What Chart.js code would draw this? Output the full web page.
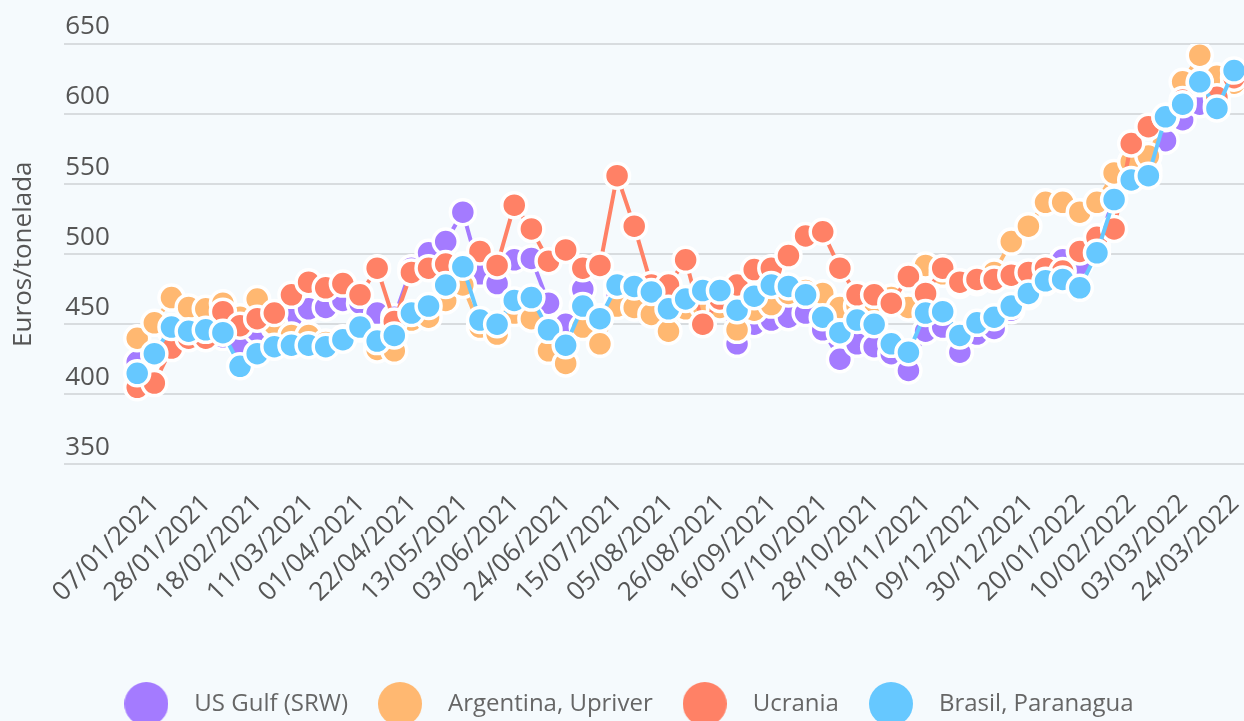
<!DOCTYPE html>
<html lang="es">
<head>
<meta charset="utf-8">
<title>Precios del trigo</title>
<script src="https://cdn.jsdelivr.net/npm/chart.js@4.4.1/dist/chart.umd.min.js"></script>
<style>
  html, body { margin: 0; padding: 0; background: #f5fafd; overflow: hidden; }
  #contenedor { width: 1244px; height: 726px; position: relative; }
</style>
</head>
<body>
<div id="contenedor"><canvas id="preciosChart"></canvas></div>
<script>
// Fechas semanales (jueves) de enero 2021 a marzo 2022
const fechas = [
  '07/01/2021', '14/01/2021', '21/01/2021', '28/01/2021', '04/02/2021', '11/02/2021', '18/02/2021',
  '25/02/2021', '04/03/2021', '11/03/2021', '18/03/2021', '25/03/2021', '01/04/2021', '08/04/2021',
  '15/04/2021', '22/04/2021', '29/04/2021', '06/05/2021', '13/05/2021', '20/05/2021', '27/05/2021',
  '03/06/2021', '10/06/2021', '17/06/2021', '24/06/2021', '01/07/2021', '08/07/2021', '15/07/2021',
  '22/07/2021', '29/07/2021', '05/08/2021', '12/08/2021', '19/08/2021', '26/08/2021', '02/09/2021',
  '09/09/2021', '16/09/2021', '23/09/2021', '30/09/2021', '07/10/2021', '14/10/2021', '21/10/2021',
  '28/10/2021', '04/11/2021', '11/11/2021', '18/11/2021', '25/11/2021', '02/12/2021', '09/12/2021',
  '16/12/2021', '23/12/2021', '30/12/2021', '06/01/2022', '13/01/2022', '20/01/2022', '27/01/2022',
  '03/02/2022', '10/02/2022', '17/02/2022', '24/02/2022', '03/03/2022', '10/03/2022', '17/03/2022',
  '24/03/2022', '31/03/2022'
];

// Precios en euros/tonelada
const usGulf = [
  423, 428, 444, 443, 445, 441, 436, 445, 448, 455, 461, 462, 467, 465, 458, 455,
  490, 501, 509, 530, 486, 479, 496, 497, 465, 450, 475, 455, 472, 472, 468, 462,
  465, 468, 468, 436, 450, 453, 455, 458, 446, 425, 436, 434, 429, 417, 445, 448,
  430, 443, 447, 460, 470, 480, 496, 493, 505, 540, 555, 560, 581, 596, 607, 606, 626
];
const argentina = [
  440, 451, 469, 462, 461, 465, 455, 468, 450, 442, 442, 437, 440, 447, 432, 431,
  453, 455, 467, 478, 448, 443, 458, 454, 431, 422, 448, 436, 463, 462, 457, 445,
  461, 463, 462, 446, 460, 464, 472, 474, 472, 462, 463, 466, 469, 462, 492, 486,
  478, 480, 487, 509, 520, 537, 537, 530, 537, 558, 566, 570, 597, 623, 642, 627, 622
];
const ucrania = [
  405, 408, 433, 440, 440, 459, 449, 454, 458, 471, 480, 476, 479, 471, 490, 452,
  487, 490, 493, 492, 502, 492, 535, 518, 495, 503, 490, 492, 556, 520, 478, 478,
  496, 450, 468, 478, 489, 490, 499, 513, 516, 490, 471, 471, 465, 484, 472, 490,
  480, 482, 482, 485, 487, 490, 488, 502, 512, 518, 579, 591, 598, 610, 622, 612, 626
];
const brasil = [
  415, 429, 448, 445, 446, 444, 420, 429, 434, 435, 435, 434, 439, 448, 438, 442,
  458, 463, 478, 491, 453, 450, 467, 469, 446, 435, 463, 454, 478, 477, 473, 461,
  468, 474, 474, 460, 470, 478, 477, 471, 455, 444, 453, 450, 436, 430, 458, 459,
  442, 451, 455, 463, 472, 481, 482, 476, 501, 539, 553, 556, 598, 607, 623, 604, 631
];

const series = ['US Gulf (SRW)', 'Argentina, Upriver', 'Ucrania', 'Brasil, Paranagua'];
const colores = ['#a47bff', '#ffb871', '#ff8166', '#66c8ff'];
const ticksY = [350, 400, 450, 500, 550, 600, 650];

Chart.defaults.font.family = "'Open Sans', sans-serif";

// Circulo grande para la leyenda
function crearPunto(color) {
  const c = document.createElement('canvas');
  c.width = 44;
  c.height = 44;
  const ctx = c.getContext('2d');
  ctx.fillStyle = color;
  ctx.beginPath();
  ctx.arc(22, 22, 22, 0, Math.PI * 2);
  ctx.fill();
  return c;
}

function crearDataset(nombre, valores, i) {
  return {
    label: nombre,
    data: valores.map((v, j) => ({ x: j, y: v })),
    borderColor: colores[i],
    backgroundColor: colores[i],
    borderWidth: 4,
    tension: 0,
    pointRadius: 12.5,
    pointBorderWidth: 3.5,
    pointBorderColor: '#ffffff',
    pointBackgroundColor: colores[i],
    order: 3 - i // Brasil queda encima
  };
}

const datos = [usGulf, argentina, ucrania, brasil];

new Chart(document.getElementById('preciosChart'), {
  type: 'line',
  data: {
    datasets: datos.map((d, i) => crearDataset(series[i], d, i))
  },
  options: {
    responsive: true,
    maintainAspectRatio: false,
    animation: false,
    events: [],
    // sin relleno automatico: las rejillas llegan al borde derecho
    layout: { autoPadding: false, padding: { top: 44, left: 0, right: 0, bottom: 0 } },
    plugins: {
      legend: {
        position: 'bottom',
        labels: {
          usePointStyle: true,
          pointStyleWidth: 72,
          padding: 16,
          color: '#666666',
          font: { size: 24 },
          sort: (a, b) => a.datasetIndex - b.datasetIndex,
          generateLabels: (chart) => {
            const items = Chart.defaults.plugins.legend.labels.generateLabels(chart);
            items.forEach(it => { it.pointStyle = crearPunto(colores[it.datasetIndex]); });
            return items;
          }
        }
      },
      tooltip: { enabled: false }
    },
    scales: {
      x: {
        type: 'linear',
        min: -4.26,
        max: 64.58,
        // sin lineas verticales, solo el hueco de las marcas
        grid: { display: true, drawOnChartArea: false, drawTicks: true, tickLength: 24, tickColor: 'rgba(0,0,0,0)' },
        border: { display: false },
        // una etiqueta cada tres semanas
        afterBuildTicks: (axis) => {
          axis.ticks = fechas.map((f, i) => ({ value: i })).filter(t => t.value % 3 === 0);
        },
        afterFit: (axis) => {
          axis.paddingLeft = 0;
          axis.paddingRight = 0;
        },
        ticks: {
          autoSkip: false,
          minRotation: 45,
          maxRotation: 45,
          labelOffset: 18,
          padding: 0,
          color: '#555555',
          font: { size: 26 },
          callback: (v) => fechas[v] || ''
        },
        title: { display: true, text: '', font: { size: 10 }, padding: { top: 0, bottom: 56 } }
      },
      y: {
        min: ticksY[0],
        max: ticksY[ticksY.length - 1],
        grid: { color: '#d8dcdf', lineWidth: 2, drawTicks: false },
        border: { display: false },
        ticks: {
          stepSize: 50,
          mirror: true,
          padding: 1,
          labelOffset: -17,
          color: '#555555',
          font: { size: 26 }
        },
        title: {
          display: true,
          text: 'Euros/tonelada',
          color: '#555555',
          font: { size: 26 },
          padding: { top: 8, bottom: 23 }
        }
      }
    }
  }
});
</script>
</body>
</html>
